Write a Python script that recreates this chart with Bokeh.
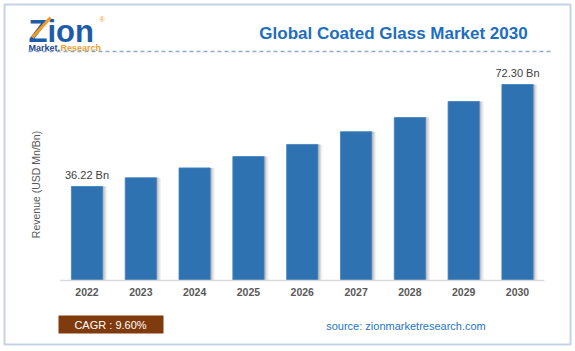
import math
from bokeh.plotting import figure
from bokeh.models import (ColumnDataSource, Range1d, Label, BoxAnnotation, Arrow, LabelSet)
from bokeh.core.properties import value
from bokeh.embed import file_html
from bokeh.resources import INLINE

years = ["2022", "2023", "2024", "2025", "2026", "2027", "2028", "2029", "2030"]
revenue = [36.22, 39.3, 42.8, 46.8, 51.1, 55.6, 60.6, 66.3, 72.30]
bar_labels = ["36.22 Bn", "", "", "", "", "", "", "", "72.30 Bn"]
title_text = "Global Coated Glass Market 2030"
y_label = "Revenue (USD Mn/Bn)"
cagr_text = "CAGR : 9.60%"
source_text = "source: zionmarketresearch.com"

FONT = "Liberation Sans"
BASE = 2.97          # value at the axis line
W, H = 575, 351

# the plot frame fills the whole canvas; texts/boxes use screen units (x from left, y from bottom)
p = figure(width=W, height=H, x_range=Range1d(2020.3926, 2031.0778),
           y_range=Range1d(-22.145, 102.014), output_backend="svg", toolbar_location=None,
           min_border_left=0, min_border_right=0, min_border_top=0, min_border_bottom=0,
           x_axis_location=None, y_axis_location=None)
p.outline_line_color = None
p.grid.visible = False
p.background_fill_color = "white"
p.border_fill_color = "white"

xs = [int(y) for y in years]
src = ColumnDataSource(dict(x=xs, top=revenue, lab=bar_labels, yr=years,
                            base=[BASE] * len(xs)))

# soft shadow on the right side of each bar
for off, a in [(0.035, 0.28), (0.06, 0.18), (0.085, 0.09)]:
    sx = [x + off for x in xs]
    p.vbar(x=sx, top=revenue, bottom=BASE, width=0.58,
           fill_color="#7f7f7f", fill_alpha=a, line_color=None)

p.vbar(x="x", top="top", bottom=BASE, width=0.58, source=src,
       fill_color="#2f72b2", line_color="#3f82c2", line_width=0.8)

# category axis line and labels
p.segment(x0=[xs[0] - 0.5], y0=[BASE], x1=[xs[-1] + 0.5], y1=[BASE],
          line_color="#d9d9d9", line_width=1.5)
p.add_layout(LabelSet(x="x", y="base", text="yr", source=src, y_offset=-8,
                      text_align="center", text_baseline="top",
                      text_font=value(FONT), text_font_size="10.5px",
                      text_font_style="bold", text_color="#595959"))

# value labels
p.add_layout(LabelSet(x="x", y="top", text="lab", source=src, y_offset=8,
                      text_align="center", text_baseline="alphabetic",
                      text_font=value(FONT), text_font_size="11px", text_color="#404040"))

# outer border
p.add_layout(BoxAnnotation(left=4, right=570, top=347, bottom=7,
                           left_units="screen", right_units="screen",
                           top_units="screen", bottom_units="screen",
                           fill_alpha=0, line_color="#3b6ea8", line_width=2))

# logo
p.add_layout(Label(x=28, y=320, x_units="screen", y_units="screen", text="Zion",
                   text_font=FONT, text_font_size="31px", text_font_style="bold",
                   text_color="#1d5ca8", text_baseline="middle"))
p.add_layout(Arrow(x_start=32, y_start=314, x_end=50, y_end=334, end=None,
                   start_units="screen", end_units="screen",
                   line_color="#f39c1f", line_width=3))
p.add_layout(Label(x=99, y=332, x_units="screen", y_units="screen", text="®",
                   text_font=FONT, text_font_size="7px", text_color="#f39c1f",
                   text_baseline="middle"))
p.add_layout(Label(x=28, y=304, x_units="screen", y_units="screen", text="Market.",
                   text_font=FONT, text_font_size="9px", text_font_style="bold",
                   text_color="#24448c", text_baseline="middle"))
p.add_layout(Label(x=60, y=304, x_units="screen", y_units="screen", text="Research",
                   text_font=FONT, text_font_size="9px", text_font_style="bold",
                   text_color="#f0a030", text_baseline="middle"))
p.add_layout(Arrow(x_start=28, y_start=300, x_end=550, y_end=300, end=None,
                   start_units="screen", end_units="screen",
                   line_color="#8fa8d8", line_width=1.5, line_dash="4 3"))

# title
p.add_layout(Label(x=393, y=318, x_units="screen", y_units="screen", text=title_text,
                   text_font=FONT, text_font_size="17px", text_font_style="bold",
                   text_color="#1e6ebe", text_align="center", text_baseline="middle"))

# y label
p.add_layout(Label(x=35, y=167, x_units="screen", y_units="screen", text=y_label,
                   angle=math.pi / 2, text_font=FONT, text_font_size="10.5px",
                   text_color="#595959", text_align="center", text_baseline="middle"))

# CAGR box
p.add_layout(BoxAnnotation(left=58, right=163, top=36, bottom=18,
                           left_units="screen", right_units="screen",
                           top_units="screen", bottom_units="screen",
                           fill_color="#7f3b0e", fill_alpha=1, line_color=None))
p.add_layout(Label(x=110, y=27, x_units="screen", y_units="screen", text=cagr_text,
                   text_font=FONT, text_font_size="11px",
                   text_color="white", text_align="center", text_baseline="middle"))

# source
p.add_layout(Label(x=405.5, y=26, x_units="screen", y_units="screen", text=source_text,
                   text_font=FONT, text_font_size="11px",
                   text_color="#1f75c4", text_align="center", text_baseline="middle"))

open("out.html", "w").write(file_html(p, INLINE))
